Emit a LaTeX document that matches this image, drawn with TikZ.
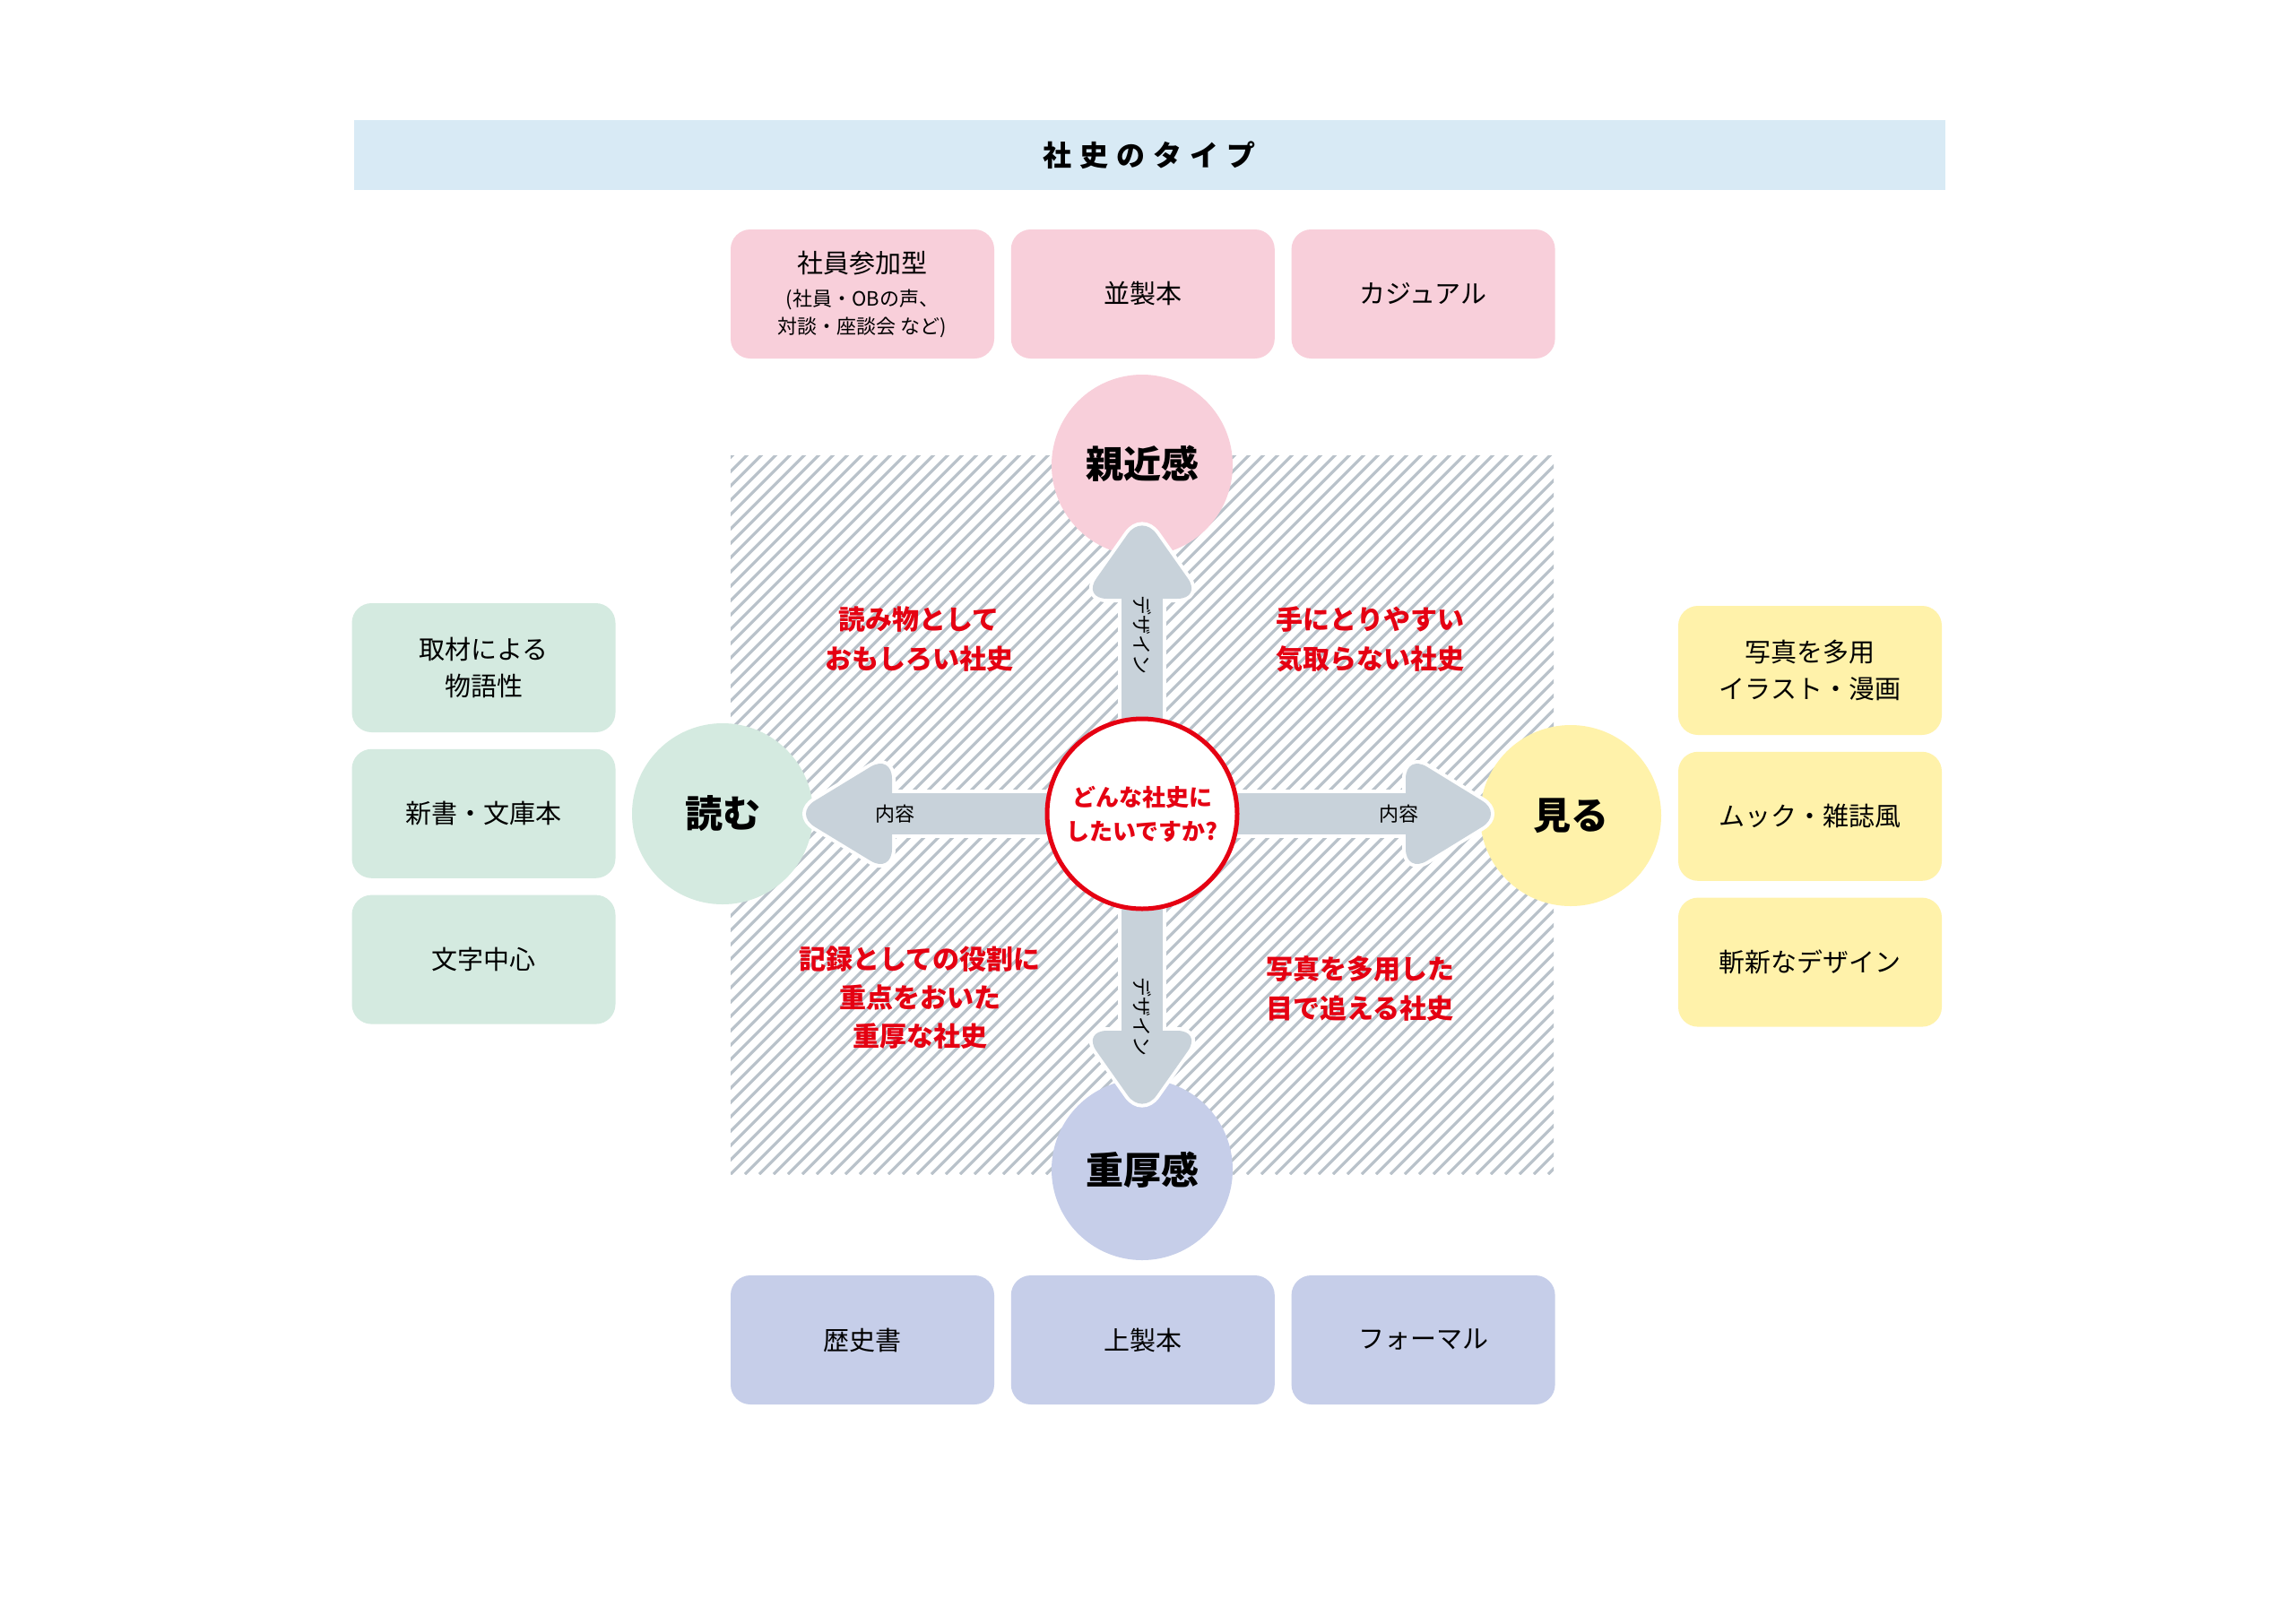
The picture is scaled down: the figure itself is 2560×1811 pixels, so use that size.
\documentclass[tikz,border=0pt]{standalone}
\usepackage{fontspec}
\usepackage{tikz}
\usetikzlibrary{positioning}
\newfontfamily\jp{Noto Sans CJK JP}
\newfontfamily\jptitle[LetterSpace=28]{Noto Sans CJK JP}
\definecolor{barblue}{HTML}{D8EAF5}
\definecolor{rosy}{HTML}{F8CFDA}
\definecolor{mint}{HTML}{D4EAE0}
\definecolor{cream}{HTML}{FFF2AA}
\definecolor{lavender}{HTML}{C6CEE9}
\definecolor{arrowgray}{HTML}{C8D2DA}
\definecolor{hatchgray}{HTML}{B9C2CA}
\definecolor{shared}{HTML}{E50012}
\tikzset{
    tbox/.style={rounded corners=11pt, minimum width=147pt, minimum height=72pt, inner sep=0pt, align=center, font=\jp\fontsize{14.5pt}{20.5pt}\selectfont},
    pole/.style={circle, minimum size=101pt, inner sep=0pt, font=\jp\bfseries\fontsize{21pt}{24pt}\selectfont},
    quad/.style={align=center, text=shared, inner sep=0pt, font=\jp\bfseries\fontsize{15pt}{22pt}\selectfont},
    axislabel/.style={inner sep=0pt, font=\jp\fontsize{11pt}{13pt}\selectfont},
    hatch/.style={draw=hatchgray, line width=1.6pt}
}

\begin{document}
\begin{tikzpicture}[x=0.5pt, y=-0.5pt]
    \fill[white] (0,0) rectangle (2560,1811);
    \useasboundingbox (0,0) rectangle (2560,1811);

    \node[fill=barblue, minimum width=887.5pt, minimum height=39pt, inner sep=0pt, font=\jptitle\bfseries\fontsize{16pt}{18pt}\selectfont] (title) at (1282,173) {社史のタイプ};

    \node[tbox, fill=rosy] (pb1) at (962,328) {社員参加型\\[-2pt]\fontsize{11pt}{15.5pt}\selectfont(社員・OBの声、\\[-5pt]\fontsize{11pt}{15.5pt}\selectfont 対談・座談会 など)};
    \node[tbox, fill=rosy, right=9pt of pb1] (pb2) {並製本};
    \node[tbox, fill=rosy, right=9pt of pb2] (pb3) {カジュアル};

    \node[tbox, fill=mint] (gb1) at (539.5,745) {取材による\\物語性};
    \node[tbox, fill=mint, below=9pt of gb1] (gb2) {新書・文庫本};
    \node[tbox, fill=mint, below=9pt of gb2] (gb3) {文字中心};

    \node[tbox, fill=cream] (yb1) at (2019,748) {写真を多用\\イラスト・漫画};
    \node[tbox, fill=cream, below=9pt of yb1] (yb2) {ムック・雑誌風};
    \node[tbox, fill=cream, below=9pt of yb2] (yb3) {斬新なデザイン};

    \node[tbox, fill=lavender] (bb1) at (962,1495) {歴史書};
    \node[tbox, fill=lavender, right=9pt of bb1] (bb2) {上製本};
    \node[tbox, fill=lavender, right=9pt of bb2] (bb3) {フォーマル};

    \begin{scope}
        \clip (815,508) rectangle (1733,1310);
        \foreach \k in {-800,-784,...,920}
            \draw[hatch] (815+\k,1310) -- ++(820,-820);
    \end{scope}

    \node[pole, fill=rosy] (near) at (1274,519) {\raisebox{4pt}{親近感}};
    \node[pole, fill=lavender] (heavy) at (1274,1305) {重厚感};
    \node[pole, fill=mint] (read) at (806,908) {読む};
    \node[pole, fill=cream] (see) at (1752,910) {見る};

    \coordinate (q0) at (1274,908);
    \foreach \ang/\hb/\tp in {0/294/403, 90/240/335, 180/279/389, 270/242/337} {
        \begin{scope}[shift={(q0)}, rotate=\ang]
            \filldraw[white, line width=4pt, line join=round] (0,-23) rectangle (\hb+6,23);
            \filldraw[white, line width=4pt, line join=round, rounded corners=14pt] (\hb,-67) -- (\tp,0) -- (\hb,67) -- cycle;
            \fill[arrowgray] (0,-23) rectangle (\hb+6,23);
            \fill[arrowgray, rounded corners=14pt] (\hb,-67) -- (\tp,0) -- (\hb,67) -- cycle;
        \end{scope}
    }

    \node[circle, draw=shared, line width=2.5pt, fill=white, minimum size=106pt, inner sep=0pt, align=center, text=shared, font=\jp\bfseries\fontsize{13pt}{19pt}\selectfont] (q) at (q0) {どんな社史に\\したいですか?};

    \node[axislabel] (cl) at (998,908) {内容};
    \node[axislabel] (cr) at (1560,908) {内容};
    \node[axislabel, rotate=-90] (du) at (1274,708) {デザイン};
    \node[axislabel, rotate=-90] (dd) at (1274,1134) {デザイン};

    \node[quad] (tl) at (1025,713) {読み物として\\おもしろい社史};
    \node[quad] (tr) at (1528,713) {手にとりやすい\\気取らない社史};
    \node[quad, font=\jp\bfseries\fontsize{15pt}{21.5pt}\selectfont] (bl) at (1026,1113) {記録としての役割に\\重点をおいた\\重厚な社史};
    \node[quad] (br) at (1517,1103) {写真を多用した\\目で追える社史};
\end{tikzpicture}
\end{document}
